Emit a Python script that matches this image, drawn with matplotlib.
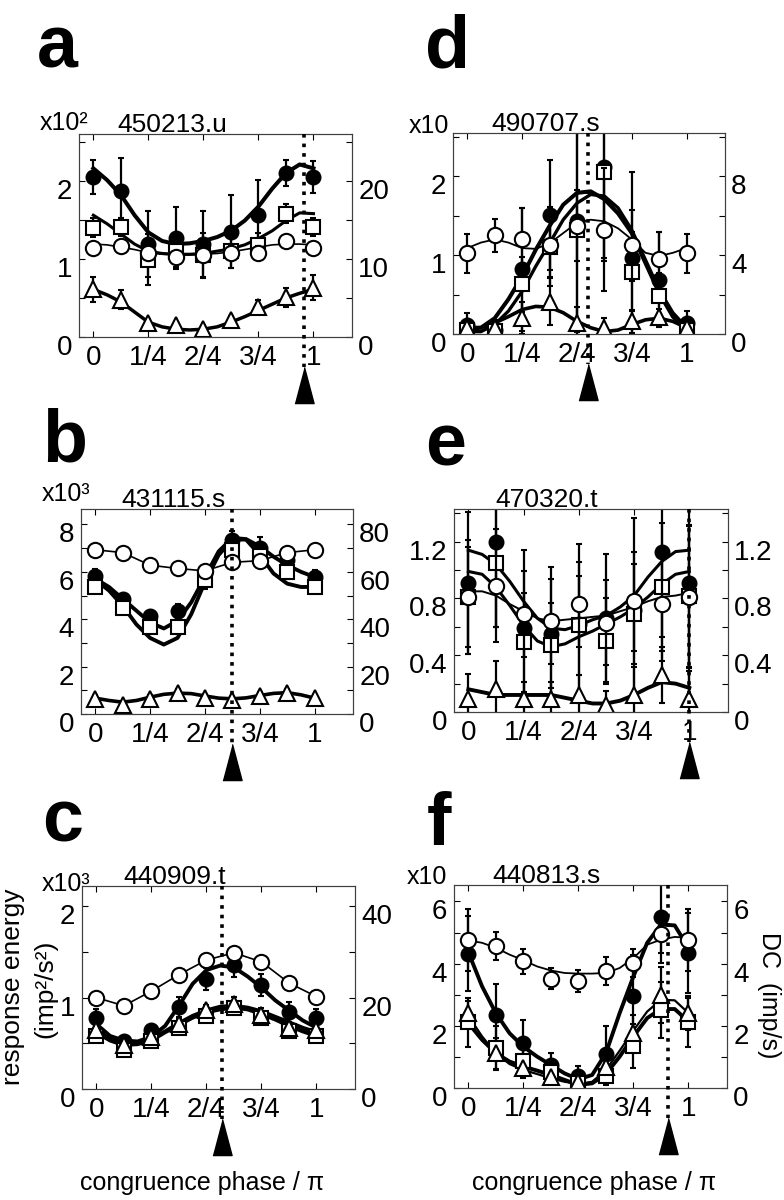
import matplotlib
matplotlib.use('Agg')
import matplotlib.pyplot as plt
from matplotlib.ticker import MultipleLocator, FixedLocator, FixedFormatter, FuncFormatter
from matplotlib.transforms import ScaledTranslation, blended_transform_factory

plt.rcParams['font.family'] = ['Liberation Sans', 'DejaVu Sans']

# congruence phase (units of pi): measured points and fitted-curve samples
phase_pts = [0, 0.125, 0.25, 0.375, 0.5, 0.625, 0.75, 0.875, 1.0]
phase_fit = [0, 0.0625, 0.125, 0.1875, 0.25, 0.3125, 0.375, 0.4375, 0.5,
             0.5625, 0.625, 0.6875, 0.75, 0.8125, 0.875, 0.9375, 1.0]
phase_ticks = [0, 0.25, 0.5, 0.75, 1.0]
phase_labels = ['0', '1/4', '2/4', '3/4', '1']

# ---- a: 450213.u (energy x10^2, DC right axis) ----
a_fill = [2.05, 1.87, 1.19, 1.27, 1.19, 1.35, 1.56, 2.10, 2.05]
a_fill_err = [0.22, 0.42, 0.42, 0.40, 0.43, 0.47, 0.45, 0.17, 0.20]
a_fill_fit = [2.16, 2.01, 1.82, 1.56, 1.34, 1.23, 1.19, 1.20, 1.23, 1.28, 1.36, 1.49, 1.67, 1.90, 2.10, 2.21, 2.16]
a_sq = [1.40, 1.41, 0.99, 1.10, 1.05, 1.10, 1.18, 1.58, 1.41]
a_sq_err = [0.12, 0.12, 0.33, 0.20, 0.28, 0.22, 0.15, 0.12, 0.12]
a_sq_fit = [1.56, 1.45, 1.32, 1.19, 1.10, 1.07, 1.06, 1.06, 1.07, 1.10, 1.13, 1.18, 1.26, 1.36, 1.49, 1.59, 1.58]
a_dc = [11.4, 11.7, 10.8, 10.2, 10.5, 10.8, 10.8, 12.3, 11.4]
a_dc_err = [0.7, 0.7, 0.8, 0.8, 0.8, 0.8, 0.8, 0.7, 0.7]
a_dc_fit = [11.9, 11.8, 11.5, 11.2, 10.8, 10.6, 10.5, 10.5, 10.6, 10.7, 10.9, 11.2, 11.5, 11.8, 11.9, 11.9, 11.8]
a_tri = [0.61, 0.48, 0.18, 0.15, 0.10, 0.22, 0.39, 0.51, 0.63]
a_tri_err = [0.16, 0.12, 0.05, 0.04, 0.04, 0.05, 0.08, 0.12, 0.16]
a_tri_fit = [0.61, 0.54, 0.45, 0.32, 0.19, 0.13, 0.10, 0.09, 0.10, 0.13, 0.19, 0.26, 0.34, 0.42, 0.50, 0.56, 0.61]
a_pref = 0.955

# ---- b: 431115.s ----
b_fill = [5.81, 4.86, 4.14, 4.36, 5.95, 7.36, 7.00, 6.50, 5.78]
b_fill_err = [0.30, 0.20, 0.20, 0.30, 0.35, 0.35, 0.45, 0.30, 0.30]
b_fill_fit = [5.71, 5.36, 4.86, 4.36, 3.86, 3.61, 3.93, 4.71, 5.78, 6.86, 7.43, 7.38, 7.07, 6.64, 6.28, 6.00, 5.78]
b_sq = [5.36, 4.47, 3.67, 3.67, 5.67, 6.93, 6.67, 6.00, 5.36]
b_sq_err = [0.25, 0.25, 0.20, 0.30, 0.40, 0.30, 0.30, 0.30, 0.25]
b_sq_fit = [5.67, 5.21, 4.57, 3.78, 3.21, 2.93, 3.21, 4.21, 5.57, 6.71, 7.36, 7.36, 6.71, 5.93, 5.50, 5.36, 5.36]
b_dc = [69.3, 68.1, 62.8, 61.4, 60.4, 64.0, 64.7, 68.1, 69.3]
b_dc_err = [1.6, 1.6, 1.6, 1.6, 1.6, 1.6, 1.6, 1.6, 1.6]
b_tri = [0.64, 0.38, 0.64, 0.90, 0.67, 0.57, 0.78, 0.90, 0.67]
b_tri_err = [0.15, 0.15, 0.15, 0.15, 0.15, 0.15, 0.15, 0.15, 0.15]
b_tri_fit = [0.67, 0.57, 0.50, 0.57, 0.71, 0.83, 0.88, 0.86, 0.76, 0.67, 0.64, 0.68, 0.78, 0.87, 0.90, 0.81, 0.67]
b_pref = 0.625

# ---- c: 440909.t ----
c_fill = [0.78, 0.52, 0.64, 0.90, 1.20, 1.36, 1.14, 0.84, 0.78]
c_fill_err = [0.10, 0.05, 0.06, 0.11, 0.12, 0.14, 0.12, 0.11, 0.10]
c_fill_fit = [0.71, 0.58, 0.53, 0.52, 0.57, 0.69, 0.91, 1.15, 1.30, 1.35, 1.33, 1.23, 1.11, 0.97, 0.86, 0.75, 0.67]
c_sq = [0.58, 0.43, 0.53, 0.67, 0.80, 0.89, 0.78, 0.63, 0.58]
c_sq_err = [0.04, 0.04, 0.04, 0.05, 0.05, 0.06, 0.05, 0.04, 0.04]
c_sq_fit = [0.62, 0.53, 0.48, 0.49, 0.53, 0.62, 0.70, 0.78, 0.84, 0.87, 0.89, 0.87, 0.82, 0.76, 0.69, 0.63, 0.58]
c_dc = [20.0, 18.2, 21.4, 25.0, 28.2, 29.8, 27.8, 23.2, 20.2]
c_dc_err = [1.0, 1.0, 1.0, 1.0, 1.0, 1.0, 1.0, 1.0, 1.0]
c_tri = [0.64, 0.48, 0.57, 0.71, 0.86, 0.93, 0.81, 0.67, 0.64]
c_tri_err = [0.05, 0.05, 0.05, 0.06, 0.06, 0.08, 0.08, 0.06, 0.05]
c_tri_fit = [0.67, 0.57, 0.51, 0.51, 0.55, 0.63, 0.72, 0.80, 0.86, 0.90, 0.91, 0.89, 0.85, 0.79, 0.73, 0.67, 0.62]
c_pref = 0.57

# ---- d: 490707.s ----
d_fill = [0.12, 0.05, 0.82, 1.51, 1.43, 2.12, 0.96, 0.69, 0.14]
d_fill_err = [0.15, 0.12, 0.78, 0.70, 1.30, 1.20, 1.10, 0.60, 0.15]
d_fill_fit = [0.08, 0.08, 0.20, 0.44, 0.73, 1.07, 1.37, 1.64, 1.79, 1.81, 1.71, 1.53, 1.28, 0.90, 0.52, 0.22, 0.05]
d_sq = [0.05, 0.04, 0.63, 1.11, 1.32, 2.06, 0.79, 0.48, 0.05]
d_sq_err = [0.10, 0.05, 0.35, 0.50, 1.30, 1.10, 0.50, 0.30, 0.10]
d_sq_fit = [0.03, 0.03, 0.12, 0.29, 0.54, 0.86, 1.15, 1.45, 1.66, 1.77, 1.75, 1.60, 1.32, 0.94, 0.56, 0.27, 0.08]
d_dc = [4.1, 5.0, 4.8, 4.5, 5.5, 5.3, 4.5, 3.8, 4.1]
d_dc_err = [1.0, 0.85, 1.6, 1.6, 1.8, 3.1, 1.8, 1.4, 1.0]
d_dc_fit = [4.36, 4.64, 4.80, 4.64, 4.36, 4.32, 4.60, 5.12, 5.64, 5.80, 5.72, 5.36, 4.80, 4.12, 3.96, 4.12, 4.36]
d_tri = [0.08, 0.08, 0.20, 0.41, 0.14, 0.08, 0.16, 0.22, 0.08]
d_tri_err = [0.10, 0.10, 0.20, 0.30, 0.20, 0.12, 0.15, 0.10, 0.10]
d_tri_fit = [0.05, 0.08, 0.14, 0.22, 0.31, 0.35, 0.34, 0.27, 0.16, 0.08, 0.03, 0.05, 0.12, 0.18, 0.20, 0.16, 0.08]
d_pref = 0.55

# ---- e: 470320.t ----
e_fill = [0.91, 1.20, 0.59, 0.55, 0.62, 0.66, 0.72, 1.13, 0.91]
e_fill_err = [0.50, 0.60, 0.55, 0.47, 0.56, 0.45, 0.65, 0.60, 0.80]
e_fill_fit = [1.14, 1.11, 1.04, 0.92, 0.78, 0.66, 0.59, 0.58, 0.61, 0.65, 0.68, 0.74, 0.82, 0.95, 1.06, 1.13, 1.14]
e_sq = [0.81, 1.05, 0.49, 0.47, 0.61, 0.50, 0.69, 0.88, 0.82]
e_sq_err = [0.40, 0.45, 0.35, 0.30, 0.35, 0.30, 0.35, 0.45, 0.50]
e_sq_fit = [0.99, 0.97, 0.88, 0.75, 0.61, 0.50, 0.46, 0.48, 0.53, 0.57, 0.62, 0.67, 0.73, 0.81, 0.90, 0.97, 0.99]
e_dc = [0.81, 0.89, 0.69, 0.64, 0.76, 0.63, 0.78, 0.76, 0.81]
e_dc_err = [0.35, 0.40, 0.30, 0.30, 0.30, 0.30, 0.35, 0.40, 0.50]
e_dc_fit = [0.85, 0.85, 0.82, 0.76, 0.71, 0.66, 0.64, 0.65, 0.66, 0.67, 0.68, 0.71, 0.74, 0.78, 0.81, 0.82, 0.84]
e_tri = [0.09, 0.16, 0.09, 0.09, 0.12, 0.05, 0.12, 0.26, 0.09]
e_tri_err = [0.18, 0.20, 0.12, 0.12, 0.14, 0.10, 0.20, 0.20, 0.20]
e_tri_fit = [0.16, 0.14, 0.12, 0.12, 0.12, 0.12, 0.12, 0.10, 0.08, 0.06, 0.06, 0.08, 0.12, 0.17, 0.21, 0.20, 0.17]
e_pref = 1.0

# ---- f: 440813.s ----
f_fill = [4.32, 2.35, 1.44, 0.74, 0.37, 1.10, 2.97, 5.51, 4.34]
f_fill_err = [1.20, 1.00, 0.75, 0.40, 0.35, 0.90, 1.30, 1.50, 1.30]
f_fill_fit = [4.37, 3.27, 2.41, 1.76, 1.33, 1.01, 0.74, 0.47, 0.28, 0.42, 1.12, 2.41, 3.59, 4.67, 5.26, 5.23, 4.51]
f_sq = [2.11, 1.28, 0.88, 0.53, 0.17, 0.39, 1.35, 2.52, 2.11]
f_sq_err = [0.80, 0.70, 0.40, 0.30, 0.20, 0.30, 0.70, 0.90, 0.80]
f_sq_fit = [2.09, 1.55, 1.12, 0.85, 0.69, 0.56, 0.42, 0.26, 0.10, 0.15, 0.45, 1.01, 1.66, 2.25, 2.54, 2.54, 2.14]
f_dc = [4.75, 4.56, 4.08, 3.52, 3.43, 3.77, 4.02, 4.94, 4.77]
f_dc_err = [1.00, 0.45, 0.40, 0.35, 0.35, 0.45, 0.45, 0.60, 1.00]
f_dc_fit = [4.75, 4.67, 4.51, 4.29, 4.11, 3.91, 3.78, 3.70, 3.68, 3.68, 3.70, 3.86, 4.18, 4.61, 4.77, 4.86, 4.83]
f_tri = [2.41, 1.12, 0.63, 0.34, 0.20, 0.69, 1.76, 3.00, 2.41]
f_tri_err = [0.40, 0.50, 0.30, 0.20, 0.15, 0.30, 0.60, 0.90, 0.55]
f_tri_fit = [2.32, 1.66, 1.12, 0.77, 0.58, 0.45, 0.31, 0.20, 0.13, 0.20, 0.58, 1.20, 1.85, 2.46, 2.84, 2.82, 2.41]
f_pref = 0.905

panels = [
    dict(letter='a', cell='450213.u', rect=(79, 134, 352, 337), letter_at=(37, 68),
         expo=('x10²', 40, 130), ytop=2.6, scale=10, lstep=(1, 0.5), rstep=(10, 5), pref=a_pref,
         series=[(a_fill, a_fill_err, a_fill_fit), (a_sq, a_sq_err, a_sq_fit),
                 (a_dc, a_dc_err, a_dc_fit), (a_tri, a_tri_err, a_tri_fit)],
         lws=[2.9, 2.2, 1.2, 2.5]),
    dict(letter='b', cell='431115.s', rect=(81, 509, 353, 714), letter_at=(42, 462),
         expo=('x10³', 42, 501), ytop=8.65, scale=10, lstep=(2, 1), rstep=(20, 10), pref=b_pref,
         series=[(b_fill, b_fill_err, b_fill_fit), (b_sq, b_sq_err, b_sq_fit),
                 (b_dc, b_dc_err, None), (b_tri, b_tri_err, b_tri_fit)],
         lws=[2.8, 2.8, 1.2, 2.6]),
    dict(letter='c', cell='440909.t', rect=(82, 886, 355, 1089), letter_at=(42, 842),
         expo=('x10³', 42, 891), ytop=2.22, scale=20, lstep=(1, 0.5), rstep=(20, 10), pref=c_pref,
         series=[(c_fill, c_fill_err, c_fill_fit), (c_sq, c_sq_err, c_sq_fit),
                 (c_dc, c_dc_err, None), (c_tri, c_tri_err, c_tri_fit)],
         lws=[2.8, 2.8, 1.2, 2.8]),
    dict(letter='d', cell='490707.s', rect=(453, 133, 725, 334), letter_at=(425, 68),
         expo=('x10', 409, 133), ytop=2.55, scale=4, lstep=(1, 0.5), rstep=(4, 2), pref=d_pref,
         series=[(d_fill, d_fill_err, d_fill_fit), (d_sq, d_sq_err, d_sq_fit),
                 (d_dc, d_dc_err, d_dc_fit), (d_tri, d_tri_err, d_tri_fit)],
         lws=[2.9, 2.4, 1.3, 2.6]),
    dict(letter='e', cell='470320.t', rect=(454, 509, 728, 712), letter_at=(425, 465),
         expo=None, ytop=1.43, scale=1, lstep=(0.4, 0.2), rstep=(0.4, 0.2), pref=e_pref,
         series=[(e_fill, e_fill_err, e_fill_fit), (e_sq, e_sq_err, e_sq_fit),
                 (e_dc, e_dc_err, e_dc_fit), (e_tri, e_tri_err, e_tri_fit)],
         lws=[2.2, 2.2, 1.4, 2.8]),
    dict(letter='f', cell='440813.s', rect=(454, 885, 727, 1088), letter_at=(427, 845),
         expo=('x10', 407, 884), ytop=6.53, scale=1, lstep=(2, 1), rstep=(2, 1), pref=f_pref,
         series=[(f_fill, f_fill_err, f_fill_fit), (f_sq, f_sq_err, f_sq_fit),
                 (f_dc, f_dc_err, f_dc_fit), (f_tri, f_tri_err, f_tri_fit)],
         lws=[2.8, 2.8, 1.3, 1.6]),
]

# marker, face colour, size for: filled circle, square, open circle (DC), triangle
marker_styles = [('o', 'k', 10), ('s', 'w', 10.5), ('o', 'w', 11), ('^', 'w', 11)]
arrow_marker = [(-0.53, -1), (0.53, -1), (0, 1)]

FW, FH = 784, 1200
fig = plt.figure(figsize=(FW / 100, FH / 100), dpi=100)
label_shift = ScaledTranslation(0, -8 / 100, fig.dpi_scale_trans)
fmt = FuncFormatter(lambda v, pos: f'{v:g}')


def fx(px):
    return px / FW


def fy(py):
    return 1 - py / FH


for p in panels:
    x0, y0, x1, y1 = p['rect']
    hpx = y1 - y0
    ax = fig.add_axes([fx(x0), fy(y1), (x1 - x0) / FW, hpx / FH])
    ax2 = ax.twinx()
    ax.set_xlim(-0.065, 1.175)
    ax.set_ylim(0, p['ytop'])
    ax2.set_ylim(0, p['ytop'] * p['scale'])

    # fitted curves first, data points on top
    for i, (vals, err, fit) in enumerate(p['series']):
        target = ax2 if i == 2 else ax
        if fit is not None:
            target.plot(phase_fit, fit, color='k', lw=p['lws'][i], zorder=2,
                        solid_joinstyle='round')
    for i, (vals, err, fit) in enumerate(p['series']):
        target = ax2 if i == 2 else ax
        m, fc, ms = marker_styles[i]
        target.errorbar(phase_pts, vals, yerr=err, fmt=m, ms=ms, mfc=fc, mec='k', mew=1.5,
                        color='k', ecolor='k', elinewidth=1.6, capsize=2, capthick=1.6,
                        ls='-' if fit is None else 'none', lw=p['lws'][i], zorder=3)

    # ticks
    ax.xaxis.set_major_locator(FixedLocator(phase_ticks))
    ax.xaxis.set_major_formatter(FixedFormatter(phase_labels))
    ax.yaxis.set_major_locator(MultipleLocator(p['lstep'][0]))
    ax.yaxis.set_minor_locator(MultipleLocator(p['lstep'][1]))
    ax.yaxis.set_major_formatter(fmt)
    ax2.yaxis.set_major_locator(MultipleLocator(p['rstep'][0]))
    ax2.yaxis.set_minor_locator(MultipleLocator(p['rstep'][1]))
    ax2.yaxis.set_major_formatter(fmt)
    ax.tick_params(axis='both', which='both', direction='in', length=4, width=0.8,
                   labelsize=20, top=True, right=False)
    ax.tick_params(axis='x', pad=5.5)
    ax.tick_params(axis='y', pad=5)
    ax2.tick_params(axis='y', which='both', direction='in', length=4, width=0.8,
                    labelsize=20, pad=4.5)
    for a in (ax, ax2):
        for s in a.spines.values():
            s.set_linewidth(0.8)
            s.set_color('0.25')
    for lbl in ax.yaxis.get_majorticklabels() + ax2.yaxis.get_majorticklabels():
        lbl.set_transform(lbl.get_transform() + label_shift)

    # preferred phase: dotted line and arrow head below the axis
    trans = blended_transform_factory(ax2.transData, ax2.transAxes)
    ax2.plot([p['pref'], p['pref']], [1, -30 / hpx], transform=trans, color='k',
             ls=':', lw=2.6, clip_on=False, zorder=6)
    ax2.plot([p['pref']], [-(30 + 18) / hpx], transform=trans, marker=arrow_marker,
             ms=26, color='k', ls='none', clip_on=False, zorder=6)

    ax.text(0.34, 1 + 2 / hpx, p['cell'], transform=ax.transAxes, ha='center',
            va='baseline', fontsize=19)
    fig.text(fx(p['letter_at'][0]), fy(p['letter_at'][1]), p['letter'], fontsize=53,
             fontweight='bold', ha='left', va='baseline')
    if p['expo'] is not None:
        txt, ex, ey = p['expo']
        fig.text(fx(ex), fy(ey), txt, fontsize=18, ha='left', va='baseline')

# axis labels
fig.text(fx(13), fy(987), 'response energy', rotation=90, ha='center', va='center', fontsize=19)
fig.text(fx(45), fy(989), '(imp²/s²)', rotation=90, ha='center', va='center', fontsize=19)
fig.text(fx(769), fy(995), 'DC  (imp/s)', rotation=270, ha='center', va='center', fontsize=18)
fig.text(fx(202), fy(1183), 'congruence phase / π', ha='center', va='center', fontsize=18)
fig.text(fx(594), fy(1183), 'congruence phase / π', ha='center', va='center', fontsize=18)

fig.savefig('out.png', dpi=100)
